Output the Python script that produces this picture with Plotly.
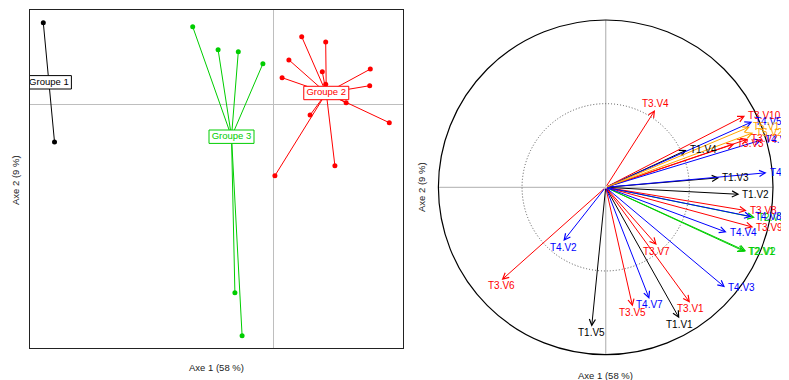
import numpy as np
import plotly.graph_objects as go

# ---------------- data ----------------
# Left panel: individuals (scores on axes 1/2) by group
g1_x = [-5.75, -5.47]
g1_y = [2.04, -0.94]
g2_x = [0.71, 1.31, 0.39, 1.225, 2.425, 0.22, 2.41, 1.82, 0.92, 2.90, 1.54, 0.04, 1.31]
g2_y = [1.69, 1.56, 1.11, 0.815, 0.88, 0.665, 0.465, 0.04, -0.27, -0.46, -1.535, -1.785, 0.50]
g3_x = [-2.015, -1.38, -0.875, -0.26, -0.96, -0.78]
g3_y = [1.94, 1.365, 1.315, 1.015, -4.71, -5.785]
group_names = ["Groupe 1", "Groupe 2", "Groupe 3"]

# Right panel: correlation circle, variables per table
T1_names = ["T1.V1", "T1.V2", "T1.V3", "T1.V4", "T1.V5"]
T1_x = [0.440, 0.799, 0.679, 0.484, -0.084]
T1_y = [-0.783, -0.042, 0.057, 0.223, -0.833]
T2_names = ["T2.V1", "T2.V2", "T2.V3"]
T2_x = [0.833, 0.840, 0.892]
T2_y = [-0.385, -0.382, -0.181]
T3_names = ["T3.V1", "T3.V2", "T3.V3", "T3.V4", "T3.V5", "T3.V6", "T3.V7", "T3.V8", "T3.V9", "T3.V10"]
T3_x = [0.504, 0.852, 0.769, 0.295, 0.161, -0.622, 0.305, 0.843, 0.882, 0.833]
T3_y = [-0.690, 0.289, 0.259, 0.462, -0.713, -0.554, -0.345, -0.140, -0.239, 0.428]
T4_names = ["T4.V1", "T4.V2", "T4.V3", "T4.V4", "T4.V5", "T4.V6", "T4.V7", "T4.V8"]
T4_x = [0.962, -0.253, 0.713, 0.723, 0.876, 0.932, 0.261, 0.873]
T4_y = [0.087, -0.321, -0.598, -0.269, 0.392, 0.283, -0.667, -0.176]
T5_names = ["T5.V1", "T5.V2"]
T5_x = [0.862, 0.882]
T5_y = [0.362, 0.326]

axis1_label = "Axe 1 (58 %)"
axis2_label = "Axe 2 (9 %)"

# ---------------- styling / layout ----------------
W, H = 789, 380
OFF = 8.0  # page body margin compensation (pixels)
FONT = "Liberation Sans, Arial, Helvetica, sans-serif"
BLACK, RED, GREEN, BLUE, ORANGE = "#000000", "#FF0000", "#00CD00", "#0000FF", "#FFA500"
GREY = "#BEBEBE"


def px(v):
    return v - OFF


# left panel pixel geometry (figure pixels)
L_x0, L_x1, L_y0, L_y1 = px(30.0), px(403.3), px(10.0), px(348.0)
L_ox, L_oy, L_ppu = px(273.3), px(104.3), 40.0
lx_range = [(L_x0 - L_ox) / L_ppu, (L_x1 - L_ox) / L_ppu]
ly_range = [(L_oy - L_y1) / L_ppu, (L_oy - L_y0) / L_ppu]

# right panel pixel geometry
R_x0, R_x1, R_y0, R_y1 = px(430.0), float(W), 0.0, px(372.0)
R_cx, R_cy, R_ppu = px(605.7), px(187.3), 167.3
rx_range = [(R_x0 - R_cx) / R_ppu, (R_x1 - R_cx) / R_ppu]
ry_range = [(R_cy - R_y1) / R_ppu, (R_cy - R_y0) / R_ppu]

fig = go.Figure()

groups = [(g1_x, g1_y, BLACK), (g2_x, g2_y, RED), (g3_x, g3_y, GREEN)]
centroids = []
for gx, gy, col in groups:
    cx, cy = float(np.mean(gx)), float(np.mean(gy))
    centroids.append((cx, cy))
    sx, sy = [], []
    for ptx, pty in zip(gx, gy):
        sx += [cx, ptx, None]
        sy += [cy, pty, None]
    fig.add_trace(go.Scatter(x=sx, y=sy, mode="lines", line=dict(color=col, width=1),
                             hoverinfo="skip", showlegend=False, xaxis="x", yaxis="y"))
    fig.add_trace(go.Scatter(x=gx, y=gy, mode="markers", marker=dict(color=col, size=5),
                             hoverinfo="skip", showlegend=False, xaxis="x", yaxis="y"))

# label boxes (clipped to the panel like the original)
bw, bh = 22.5 / L_ppu, 6.7 / L_ppu
for (cx, cy), (_, _, col) in zip(centroids, groups):
    fig.add_trace(go.Scatter(x=[cx - bw, cx + bw, cx + bw, cx - bw, cx - bw],
                             y=[cy - bh, cy - bh, cy + bh, cy + bh, cy - bh],
                             mode="lines", fill="toself", fillcolor="white",
                             line=dict(color=col, width=1), hoverinfo="skip",
                             showlegend=False, xaxis="x", yaxis="y"))
for (cx, cy), (_, _, col), name in zip(centroids, groups, group_names):
    fig.add_trace(go.Scatter(x=[cx], y=[cy], mode="text", text=[name], textposition="middle center",
                             textfont=dict(color=col, size=9.5, family=FONT), hoverinfo="skip",
                             showlegend=False, xaxis="x", yaxis="y"))

shapes = []
# correlation circle and reference lines
shapes.append(dict(type="line", xref="x2", yref="y2", x0=-1, x1=1, y0=0, y1=0,
                   line=dict(color=GREY, width=1.3), layer="below"))
shapes.append(dict(type="line", xref="x2", yref="y2", x0=0, x1=0, y0=-1, y1=1,
                   line=dict(color=GREY, width=1.3), layer="below"))
shapes.append(dict(type="circle", xref="x2", yref="y2", x0=-0.5, x1=0.5, y0=-0.5, y1=0.5,
                   line=dict(color="#555555", width=1, dash="1px,2px"), layer="below"))
shapes.append(dict(type="circle", xref="x2", yref="y2", x0=-1, x1=1, y0=-1, y1=1,
                   line=dict(color=BLACK, width=1.2), layer="below"))

annotations = []
tables = [(T1_names, T1_x, T1_y, BLACK), (T2_names, T2_x, T2_y, GREEN),
          (T3_names, T3_x, T3_y, RED), (T4_names, T4_x, T4_y, BLUE),
          (T5_names, T5_x, T5_y, ORANGE)]
for names, xs, ys, col in tables:
    for vx, vy in zip(xs, ys):
        annotations.append(dict(x=vx, y=vy, xref="x2", yref="y2", ax=0, ay=0,
                                axref="x2", ayref="y2", text="", showarrow=True,
                                arrowhead=5, arrowsize=1.2, arrowwidth=1, arrowcolor=col,
                                standoff=0, startstandoff=0))
for names, xs, ys, col in tables:
    for nm, vx, vy in zip(names, xs, ys):
        a = dict(x=vx, y=vy, xref="x2", yref="y2", text=nm, showarrow=False,
                 font=dict(size=10, color=col, family=FONT), yanchor="middle")
        if vx > abs(vy):
            a.update(xanchor="left", xshift=1)
        elif vy > 0:
            a.update(xanchor="center", yshift=7)
        else:
            a.update(xanchor="center", yshift=-6)
        annotations.append(a)

title_font = dict(size=9.5, color="#222222", family=FONT)
annotations += [
    dict(x=px(216) / W, y=1 - px(367) / H, xref="paper", yref="paper", text=axis1_label,
         showarrow=False, font=title_font, xanchor="center", yanchor="middle"),
    dict(x=px(15) / W, y=1 - px(180) / H, xref="paper", yref="paper", text=axis2_label,
         showarrow=False, font=title_font, xanchor="center", yanchor="middle", textangle=-90),
    dict(x=px(605) / W, y=1 - px(375) / H, xref="paper", yref="paper", text=axis1_label,
         showarrow=False, font=title_font, xanchor="center", yanchor="middle"),
    dict(x=px(421) / W, y=1 - px(187) / H, xref="paper", yref="paper", text=axis2_label,
         showarrow=False, font=title_font, xanchor="center", yanchor="middle", textangle=-90),
]

fig.update_layout(
    width=W, height=H, margin=dict(l=0, r=0, t=0, b=0),
    paper_bgcolor="white", plot_bgcolor="white",
    font=dict(family=FONT),
    showlegend=False,
    xaxis=dict(domain=[L_x0 / W, L_x1 / W], range=lx_range, showgrid=False,
               zeroline=True, zerolinecolor=GREY, zerolinewidth=1,
               showticklabels=False, ticks="", showline=True, mirror=True,
               linecolor="#222222", linewidth=1, fixedrange=True),
    yaxis=dict(domain=[1 - L_y1 / H, 1 - L_y0 / H], range=ly_range, showgrid=False,
               zeroline=True, zerolinecolor=GREY, zerolinewidth=1,
               showticklabels=False, ticks="", showline=True, mirror=True,
               linecolor="#222222", linewidth=1, fixedrange=True),
    xaxis2=dict(domain=[R_x0 / W, R_x1 / W], range=rx_range, visible=False, fixedrange=True),
    yaxis2=dict(domain=[1 - R_y1 / H, 1 - R_y0 / H], range=ry_range, visible=False, fixedrange=True),
    shapes=shapes, annotations=annotations,
)

fig.write_html("out.html")
